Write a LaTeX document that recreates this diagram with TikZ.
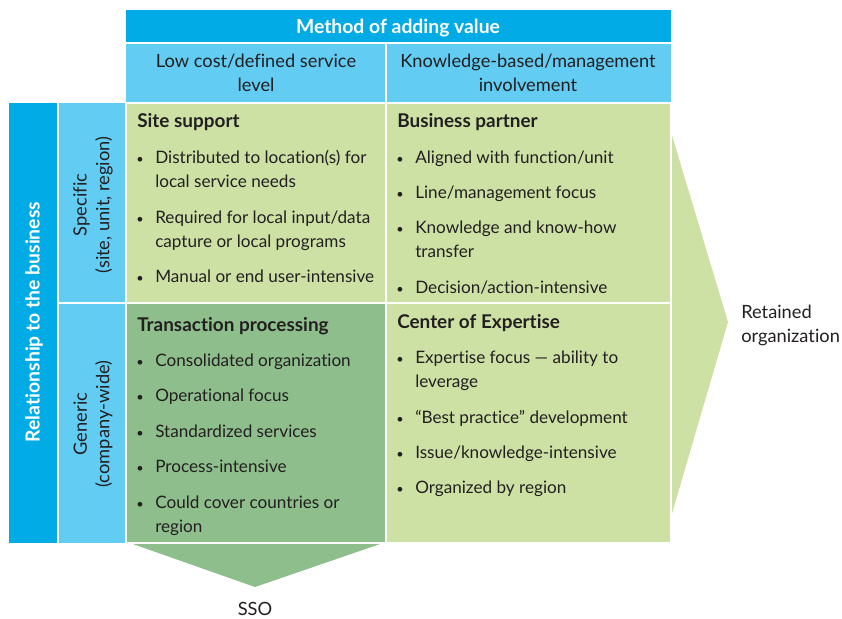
\documentclass[tikz,border=0pt]{standalone}
\usepackage{fontspec}
\setmainfont{Lato}[Ligatures=NoCommon]
\definecolor{dblue}{RGB}{0,171,230}
\definecolor{lblue}{RGB}{99,204,243}
\definecolor{lgreen}{RGB}{205,225,165}
\definecolor{mgreen}{RGB}{142,190,140}
\definecolor{ink}{RGB}{35,31,32}
\tikzset{
  cellline/.style={draw=white, line width=1.1pt},
  txt/.style={font=\fontsize{12.85}{18}\selectfont, text=ink, inner sep=0pt, anchor=base west},
  htxt/.style={font=\fontsize{13.7}{18}\selectfont, text=ink, inner sep=0pt, anchor=base},
  otxt/.style={font=\fontsize{13.7}{18}\selectfont, text=ink, inner sep=0pt, anchor=base west},
  ttl/.style={font=\fontsize{14.2}{18}\selectfont\bfseries, text=ink, inner sep=0pt, anchor=base west},
  bdot/.style={font=\fontsize{9.5}{12}\selectfont, text=ink, inner sep=0pt, anchor=base},
  wbold/.style={font=\fontsize{14.5}{18}\selectfont\bfseries, text=white, inner sep=0pt},
  rot/.style={font=\fontsize{13.7}{17}\selectfont, text=ink, inner sep=0pt, rotate=90, align=center},
}
\newcommand\bul[4]{\node[bdot] (#1d) at (#2-15,#3) {\textbullet}; \node[txt] (#1) at (#2,#3) {#4};}
\begin{document}
\begin{tikzpicture}[x=0.75pt,y=-0.75pt]
\useasboundingbox (0,0) rectangle (842,618);
% arrows behind
\fill[lgreen] (671,132) -- (728,322) -- (671,517) -- cycle;
\fill[mgreen] (130,543) -- (383,543) -- (255,587) -- cycle;
% header
\fill[dblue] (126,10) rectangle (671,43);
\fill[lblue] (126,43) rectangle (671,103);
\draw[cellline] (126,43) -- (671,43);
\draw[cellline] (386,43) -- (386,103);
% left bars
\fill[dblue] (9,103) rectangle (58,543);
\fill[lblue] (58,103) rectangle (126,543);
\draw[cellline] (58,103) -- (58,543);
\draw[cellline] (58,303) -- (126,303);
% cells
\fill[lgreen] (126,103) rectangle (386,303);
\fill[lgreen] (386,103) rectangle (671,303);
\fill[mgreen] (126,303) rectangle (386,543);
\fill[lgreen] (386,303) rectangle (671,543);
\draw[cellline] (126,103) -- (671,103);
\draw[cellline] (126,103) -- (126,543);
\draw[cellline] (386,103) -- (386,543);
\draw[cellline] (671,103) -- (671,543);
\draw[cellline] (126,303) -- (671,303);
\draw[cellline] (126,543) -- (671,543);
% header texts
\node[wbold, anchor=base] (hdr) at (398,33) {Method of adding value};
\node[htxt] (c1a) at (256,67) {Low cost/defined service};
\node[htxt] (c1b) at (256,91) {level};
\node[htxt] (c2a) at (528,67) {Knowledge-based/management};
\node[htxt] (c2b) at (528,91) {involvement};
% side texts
\node[wbold, rotate=90] (rel) at (34,322) {Relationship to the business};
\node[rot] (spec) at (93,205) {Specific\\(site, unit, region)};
\node[rot] (gen) at (93,424) {Generic\\(company-wide)};
% Site support
\node[ttl] (t1) at (137,127) {Site support};
\bul{s1}{155}{163}{Distributed to location(s) for}
\node[txt] (s1b) at (155,187) {local service needs};
\bul{s2}{155}{223}{Required for local input/data}
\node[txt] (s2b) at (155,247) {capture or local programs};
\bul{s3}{155}{282}{Manual or end user-intensive}
% Business partner
\node[ttl] (t2) at (397,127) {Business partner};
\bul{b1}{415}{163}{Aligned with function/unit}
\bul{b2}{415}{198}{Line/management focus}
\bul{b3}{415}{233}{Knowledge and know-how}
\node[txt] (b3b) at (415,257) {transfer};
\bul{b4}{415}{293}{Decision/action-intensive}
% Transaction processing
\node[ttl] (t3) at (137,331) {Transaction processing};
\bul{p1}{155}{366}{Consolidated organization}
\bul{p2}{155}{401}{Operational focus}
\bul{p3}{155}{437}{Standardized services}
\bul{p4}{155}{472}{Process-intensive}
\bul{p5}{155}{508}{Could cover countries or}
\node[txt] (p5b) at (155,532) {region};
% Center of Expertise
\node[ttl] (t4) at (397,328) {Center of Expertise};
\bul{e1}{415}{363}{Expertise focus — ability to}
\node[txt] (e1b) at (415,387) {leverage};
\bul{e2}{415}{423}{“Best practice” development}
\bul{e3}{415}{458}{Issue/knowledge-intensive}
\bul{e4}{415}{493}{Organized by region}
% outside labels
\node[otxt] (ret1) at (741,318) {Retained};
\node[otxt] (ret2) at (741,342) {organization};
\node[otxt, anchor=base] (sso) at (255,615) {SSO};
\end{tikzpicture}
\end{document}
